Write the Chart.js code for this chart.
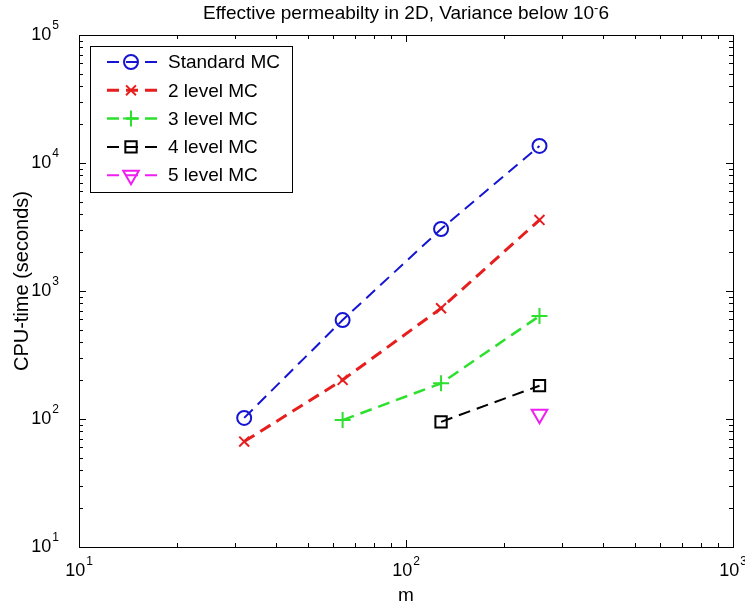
<!DOCTYPE html>
<html>
<head>
<meta charset="utf-8">
<script src="https://cdn.jsdelivr.net/npm/chart.js@4.4.1/dist/chart.umd.min.js"></script>
<style>
  html, body { margin: 0; padding: 0; background: #fff; }
  #wrap { width: 745px; height: 610px; }
</style>
</head>
<body>
<div id="wrap"><canvas id="grafico" width="745" height="610"></canvas></div>
<script>
// Dados (CPU-time em segundos por m)
const mValores = [32, 64, 128, 256];
const standardMC = [102, 593, 3050, 13600];
const level2MC = [66.6, 202, 733, 3590];
const level3MC = [null, 98, 190, 638];
const level4MC = [null, null, 95, 182];
const level5MC = [null, null, null, 109];

const nomesSeries = ['Standard MC', '2 level MC', '3 level MC', '4 level MC', '5 level MC'];
const xTicks = [10, 100, 1000];
const yTicks = [10, 100, 1000, 10000, 100000];

const FONTE = '"Liberation Sans", Arial, Helvetica, sans-serif';
const FONTE_TICK = '"Liberation Sans Narrow", "Liberation Sans", Arial, sans-serif';

function pontos(valores) {
    const out = [];
    valores.forEach((v, i) => { if (v !== null) out.push({ x: mValores[i], y: v }); });
    return out;
}

function serie(label, valores, cor, estilo, raio, largura, rotacao) {
    return {
        label: label,
        data: pontos(valores),
        borderColor: cor,
        backgroundColor: 'rgba(0,0,0,0)',
        borderWidth: largura,
        borderDash: [12, 7],
        pointStyle: estilo,
        pointRadius: raio,
        pointBorderWidth: 2,
        pointBorderColor: cor,
        pointBackgroundColor: 'rgba(0,0,0,0)',
        pointRotation: rotacao || 0,
        tension: 0
    };
}

// Escreve "10" com expoente pequeno
function potencia(ctx, expoente, x, y, alinhamento) {
    ctx.font = '18px ' + FONTE_TICK;
    const wb = ctx.measureText('10').width;
    ctx.font = '12px ' + FONTE_TICK;
    const we = ctx.measureText(String(expoente)).width;
    const total = wb + we + 1;
    let x0 = alinhamento === 'center' ? x - total / 2 : x - total;
    ctx.textAlign = 'left';
    ctx.textBaseline = 'middle';
    ctx.font = '18px ' + FONTE_TICK;
    ctx.fillText('10', x0, y);
    ctx.font = '12px ' + FONTE_TICK;
    ctx.fillText(String(expoente), x0 + wb + 1, y - 9);
}

// Eixos no estilo Matlab: caixa, ticks para dentro, rótulos e legenda
const eixosMatlab = {
    id: 'eixosMatlab',
    afterDraw(chart) {
        const ctx = chart.ctx;
        const a = chart.chartArea;
        const sx = chart.scales.x;
        const sy = chart.scales.y;
        ctx.save();
        ctx.strokeStyle = '#000';
        ctx.fillStyle = '#000';
        ctx.lineWidth = 1;
        ctx.setLineDash([]);

        // caixa
        ctx.strokeRect(Math.round(a.left) + 0.5, Math.round(a.top) + 0.5,
            Math.round(a.right - a.left), Math.round(a.bottom - a.top));

        // ticks
        ctx.beginPath();
        for (let d = 10; d < 1000; d *= 10) {
            for (let k = 1; k <= 10; k++) {
                const v = d * k;
                if (v > 1000) break;
                const px = Math.round(sx.getPixelForValue(v)) + 0.5;
                const len = (k === 1 || k === 10) ? 7 : 4;
                ctx.moveTo(px, a.bottom); ctx.lineTo(px, a.bottom - len);
                ctx.moveTo(px, a.top); ctx.lineTo(px, a.top + len);
            }
        }
        for (let d = 10; d < 100000; d *= 10) {
            for (let k = 1; k <= 10; k++) {
                const v = d * k;
                if (v > 100000) break;
                const py = Math.round(sy.getPixelForValue(v)) + 0.5;
                const len = (k === 1 || k === 10) ? 7 : 4;
                ctx.moveTo(a.left, py); ctx.lineTo(a.left + len, py);
                ctx.moveTo(a.right, py); ctx.lineTo(a.right - len, py);
            }
        }
        ctx.stroke();

        // rótulos dos ticks
        xTicks.forEach(v => {
            potencia(ctx, Math.round(Math.log10(v)), sx.getPixelForValue(v), a.bottom + 24, 'center');
        });
        yTicks.forEach(v => {
            potencia(ctx, Math.round(Math.log10(v)), a.left - 20, sy.getPixelForValue(v), 'right');
        });

        // títulos dos eixos
        ctx.font = '19px ' + FONTE;
        ctx.textAlign = 'center';
        ctx.textBaseline = 'middle';
        ctx.fillText('m', (a.left + a.right) / 2, 596);
        ctx.save();
        ctx.translate(22, (a.top + a.bottom) / 2 - 10);
        ctx.rotate(-Math.PI / 2);
        ctx.font = '20px ' + FONTE;
        ctx.fillText('CPU-time (seconds)', 0, 0);
        ctx.restore();

        // título
        const partes = ['Effective permeabilty in 2D, Variance below 10', '-', '6'];
        ctx.font = '19px ' + FONTE;
        const w1 = ctx.measureText(partes[0]).width;
        const w3 = ctx.measureText(partes[2]).width;
        ctx.font = '13px ' + FONTE;
        const w2 = ctx.measureText(partes[1]).width;
        let tx = (a.left + a.right) / 2 - (w1 + w2 + w3) / 2;
        ctx.textAlign = 'left';
        ctx.font = '19px ' + FONTE;
        ctx.fillText(partes[0], tx, 14);
        ctx.font = '13px ' + FONTE;
        ctx.fillText(partes[1], tx + w1, 8);
        ctx.font = '19px ' + FONTE;
        ctx.fillText(partes[2], tx + w1 + w2, 14);

        // legenda
        const lx = 90, ly = 46, lw = 202, lh = 146;
        ctx.fillStyle = '#fff';
        ctx.fillRect(lx, ly, lw, lh);
        ctx.strokeStyle = '#000';
        ctx.lineWidth = 1;
        ctx.strokeRect(lx + 0.5, ly + 0.5, lw, lh);
        chart.data.datasets.forEach((ds, i) => {
            const y = 62 + i * 28.3;
            ctx.strokeStyle = ds.borderColor;
            ctx.lineWidth = ds.borderWidth;
            ctx.setLineDash(ds.borderDash);
            ctx.beginPath();
            ctx.moveTo(107, y); ctx.lineTo(163, y);
            ctx.stroke();
            ctx.setLineDash([]);
            ctx.lineWidth = ds.pointBorderWidth;
            ctx.strokeStyle = ds.pointBorderColor;
            ctx.fillStyle = 'rgba(0,0,0,0)';
            Chart.helpers.drawPoint(ctx, {
                pointStyle: ds.pointStyle,
                radius: ds.pointRadius,
                rotation: ds.pointRotation,
                borderWidth: ds.pointBorderWidth
            }, 131, y);
            ctx.fillStyle = '#000';
            ctx.font = '19px ' + FONTE;
            ctx.textAlign = 'left';
            ctx.textBaseline = 'middle';
            ctx.fillText(ds.label, 168, y + 1);
        });
        ctx.restore();
    }
};

new Chart(document.getElementById('grafico'), {
    type: 'line',
    data: {
        datasets: [
            serie(nomesSeries[0], standardMC, '#1414d2', 'circle', 7, 2),
            serie(nomesSeries[1], level2MC, '#e61e1e', 'crossRot', 7, 3),
            serie(nomesSeries[2], level3MC, '#2de02d', 'cross', 8, 2.5),
            serie(nomesSeries[3], level4MC, '#000000', 'rect', 8, 2),
            serie(nomesSeries[4], level5MC, '#f01ef0', 'triangle', 9, 2, 180)
        ]
    },
    options: {
        responsive: false,
        animation: false,
        devicePixelRatio: 1,
        layout: {
            padding: { left: 79, right: 12, top: 35, bottom: 63 }
        },
        plugins: {
            legend: { display: false },
            title: { display: false },
            tooltip: { enabled: false }
        },
        scales: {
            x: { type: 'logarithmic', min: 10, max: 1000, display: false },
            y: { type: 'logarithmic', min: 10, max: 100000, display: false }
        }
    },
    plugins: [eixosMatlab]
});
</script>
</body>
</html>
